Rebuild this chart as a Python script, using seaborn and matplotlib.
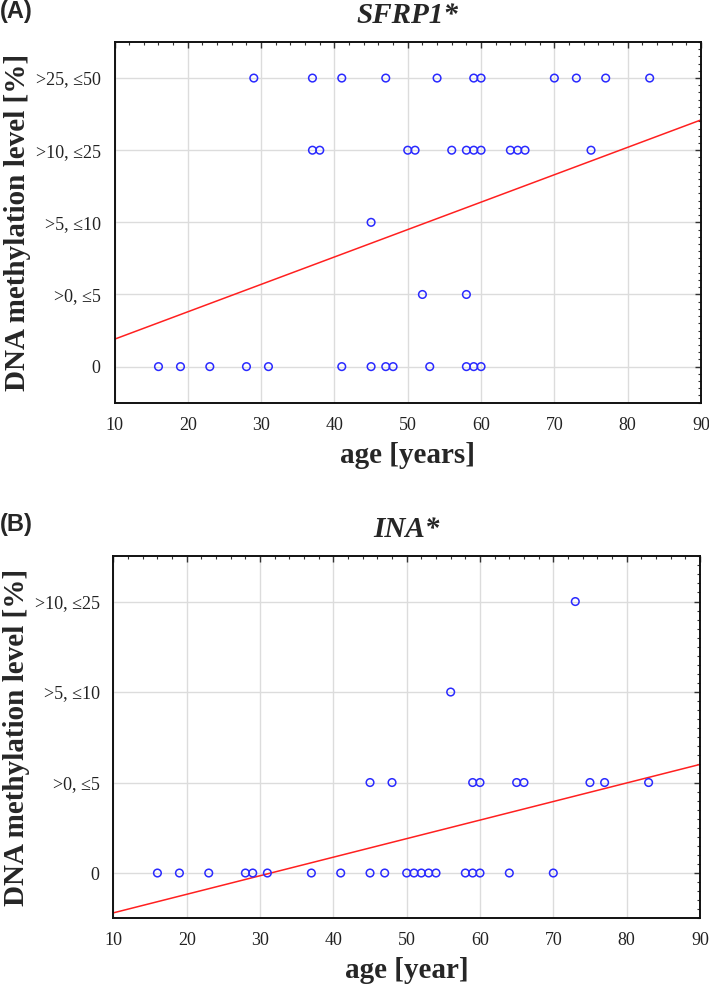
import numpy as np
import pandas as pd
import seaborn as sns
import matplotlib.pyplot as plt
from matplotlib.ticker import MultipleLocator

# SFRP1 panel: ages per methylation category
sfrp1_lvl0 = [16, 19, 23, 28, 31, 41, 45, 47, 48, 53, 58, 59, 60]
sfrp1_lvl1 = [52, 58]
sfrp1_lvl2 = [45]
sfrp1_lvl3 = [37, 38, 50, 51, 56, 58, 59, 60, 64, 65, 66, 75]
sfrp1_lvl4 = [29, 37, 41, 47, 54, 59, 60, 70, 73, 77, 83]
sfrp1_labels = ['0', '>0, ≤5', '>5, ≤10', '>10, ≤25', '>25, ≤50']
sfrp1_fit = (0.0, 0.038)  # intercept, slope

# INA panel
ina_lvl0 = [16, 19, 23, 28, 29, 31, 37, 41, 45, 47, 50, 51, 52, 53, 54,
            58, 59, 60, 64, 70]
ina_lvl1 = [45, 48, 59, 60, 65, 66, 75, 77, 83]
ina_lvl2 = [56]
ina_lvl3 = [73]
ina_labels = ['0', '>0, ≤5', '>5, ≤10', '>10, ≤25']
ina_fit = (-0.645, 0.0205)

sns.set_style('white')
plt.rcParams['font.family'] = ['Liberation Serif', 'DejaVu Serif']


def to_frame(groups):
    rows = []
    for lvl, ages in enumerate(groups):
        for a in ages:
            rows.append({'age': a, 'level': lvl})
    return pd.DataFrame(rows)


def panel(ax, df, labels, fit, title, xlabel):
    sns.scatterplot(x='age', y='level', data=df, ax=ax, marker='o', s=30,
                    facecolors='none', edgecolor='#2a2aff', linewidth=1.1, zorder=3)
    ax.axline((0, fit[0]), slope=fit[1], color='#ff2020', lw=1.1, zorder=2)
    ax.set_xlim(10, 90)
    ax.set_ylim(-0.5, len(labels) - 0.5)
    ax.set_xticks(range(10, 91, 10))
    ax.set_yticks(range(len(labels)))
    ax.set_yticklabels(labels)
    ax.xaxis.set_minor_locator(MultipleLocator(2))
    ax.yaxis.set_minor_locator(MultipleLocator(0.1))
    ax.grid(True, which='major', color='#dcdcdc', lw=1)
    ax.tick_params(which='both', direction='in', top=True, right=True,
                   labelsize=13, labelcolor='#222222', color='#333333')
    ax.tick_params(which='major', length=4, width=1, pad=10)
    ax.tick_params(which='minor', length=2.5, width=0.8)
    for s in ax.spines.values():
        s.set_color('#111111')
        s.set_linewidth(1.4)
    ax.set_xlabel(xlabel, fontsize=21, fontweight='bold')
    ax.set_ylabel('DNA methylation level [%]', fontsize=21, fontweight='bold')
    ax.xaxis.set_label_coords(0.5, -0.108)
    ax.yaxis.set_label_coords(-0.143, 0.5)
    ax.set_title(title, fontsize=21, fontweight='bold', fontstyle='italic', pad=14)


fig = plt.figure(figsize=(7.09, 9.86), dpi=100)
ax1 = fig.add_axes([0.1615, 0.5916, 0.8272, 0.3658])
ax2 = fig.add_axes([0.1600, 0.0687, 0.8272, 0.3671])

panel(ax1, to_frame([sfrp1_lvl0, sfrp1_lvl1, sfrp1_lvl2, sfrp1_lvl3, sfrp1_lvl4]),
      sfrp1_labels, sfrp1_fit, 'SFRP1*', 'age [years]')
panel(ax2, to_frame([ina_lvl0, ina_lvl1, ina_lvl2, ina_lvl3]),
      ina_labels, ina_fit, 'INA*', 'age [year]')

fig.text(0.0, 0.988, '(A)', fontsize=17, fontweight='bold', family='Liberation Sans', va='center')
fig.text(0.0, 0.468, '(B)', fontsize=17, fontweight='bold', family='Liberation Sans', va='center')

fig.savefig('out.png', dpi=100)
